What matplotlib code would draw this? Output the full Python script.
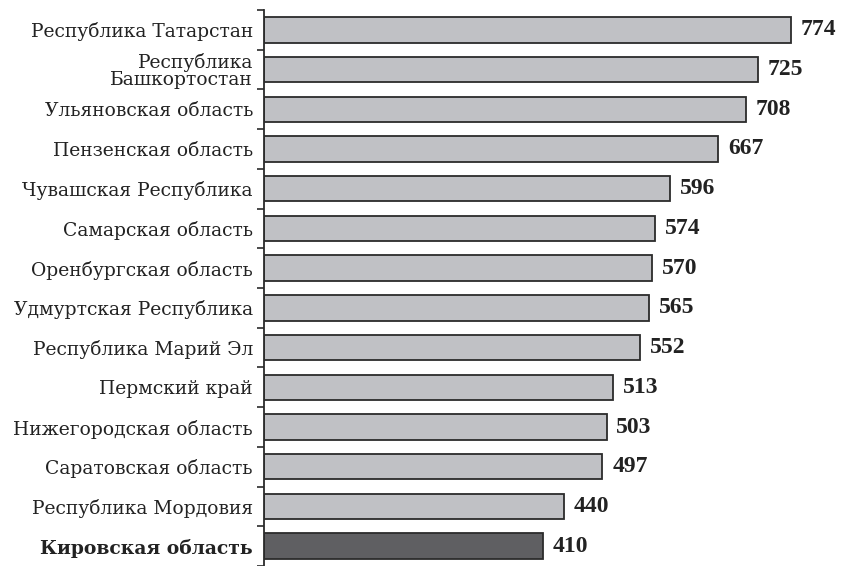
import matplotlib
matplotlib.use('Agg')
import matplotlib.pyplot as plt
import numpy as np

regions = ['Республика Татарстан', 'Республика\nБашкортостан', 'Ульяновская область',
           'Пензенская область', 'Чувашская Республика', 'Самарская область',
           'Оренбургская область', 'Удмуртская Республика', 'Республика Марий Эл',
           'Пермский край', 'Нижегородская область', 'Саратовская область',
           'Республика Мордовия', 'Кировская область']
values = [774, 725, 708, 667, 596, 574, 570, 565, 552, 513, 503, 497, 440, 410]
highlight = 'Кировская область'

plt.rcParams['font.family'] = ['DejaVu Serif']

fig = plt.figure(figsize=(8.41, 5.66), dpi=100)
ax = fig.add_axes([264 / 841, 0, 1 - 264 / 841, 1 - 10 / 566])

y = np.arange(len(regions))
colors = ['#5f5f62' if r == highlight else '#c0c1c5' for r in regions]
ax.barh(y, values, height=0.64, color=colors, edgecolor='#2b2b2b', linewidth=1.3)

for yi, v in zip(y, values):
    ax.annotate(str(v), (v, yi), xytext=(7, 0), textcoords='offset points',
                ha='left', va='center', fontsize=17, fontweight='bold',
                family='Liberation Serif', color='#222222')

ax.set_xlim(0, (841 - 264) / 0.681)
ax.set_ylim(13.45, -0.5)

# ticks at category boundaries, labels at centers
ax.set_yticks(np.arange(-0.5, len(regions) + 0.5, 1.0))
ax.set_yticklabels([])
ax.tick_params(axis='y', which='major', direction='out', length=5, width=1.2, color='#2b2b2b')
ax.set_yticks(y, minor=True)
ax.set_yticklabels(regions, minor=True, fontsize=13.5, color='#222222', linespacing=0.9)
ax.tick_params(axis='y', which='minor', length=0, pad=8)
for lbl in ax.get_yticklabels(minor=True):
    if lbl.get_text() == highlight:
        lbl.set_fontweight('bold')

ax.set_xticks([])
for s in ['top', 'right', 'bottom']:
    ax.spines[s].set_visible(False)
ax.spines['left'].set_linewidth(1.3)
ax.spines['left'].set_color('#2b2b2b')

fig.savefig('out.png', dpi=100)
